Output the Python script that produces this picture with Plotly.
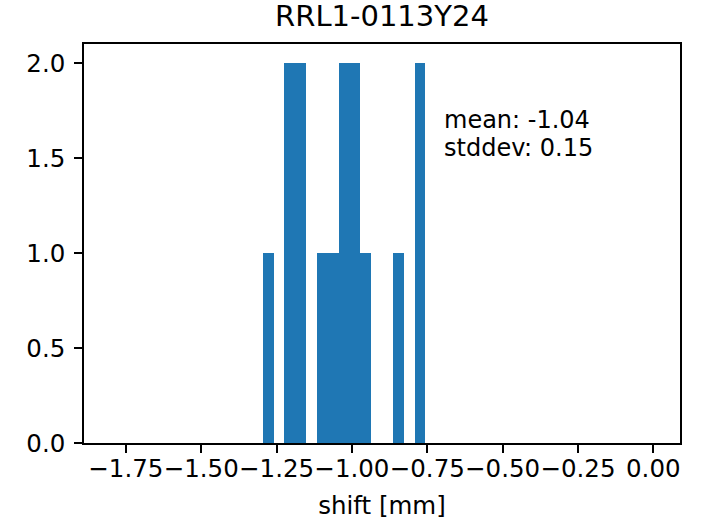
import plotly.graph_objects as go

# Histogram of measured shifts (counts per bin, bins of width 0.036 mm on [-1.8, 0])
bin_left_edges = [-1.296, -1.224, -1.188, -1.116, -1.080, -1.044, -1.008, -0.972, -0.864, -0.792]
bin_counts = [1, 2, 2, 1, 1, 2, 2, 1, 1, 2]
bin_width = 0.036

x_tick_vals = [-1.75, -1.50, -1.25, -1.00, -0.75, -0.50, -0.25, 0.00]
x_tick_text = ["\u22121.75", "\u22121.50", "\u22121.25", "\u22121.00", "\u22120.75", "\u22120.50", "\u22120.25", "0.00"]
y_tick_vals = [0.0, 0.5, 1.0, 1.5, 2.0]
y_tick_text = ["0.0", "0.5", "1.0", "1.5", "2.0"]

title_text = "RRL1-0113Y24"
stats_lines = ["mean: -1.04", "stddev: 0.15"]
x_label = "shift [mm]"

FONT = "DejaVu Sans"
BLUE = "#1f77b4"
TICK_SIZE = 24.5
TEXT_SIZE = 24

centers = [e + bin_width / 2 for e in bin_left_edges]

fig = go.Figure(
    go.Bar(
        x=centers,
        y=bin_counts,
        width=bin_width,
        marker=dict(color=BLUE, line=dict(width=0)),
        hoverinfo="x+y",
    )
)

axis_common = dict(
    showline=True,
    linecolor="black",
    linewidth=1.6,
    mirror=True,
    showgrid=False,
    zeroline=False,
    ticks="outside",
    ticklen=8,
    tickwidth=1.6,
    tickcolor="black",
    tickangle=0,
    automargin=False,
    tickfont=dict(family=FONT, size=TICK_SIZE, color="black"),
)

# stats box: one annotation per line, baselines ~28 px apart
stats_annotations = [
    dict(
        text=line,
        xref="paper",
        yref="paper",
        x=0.6,
        y=0.85 - i * 28.5 / 399.3,
        xanchor="left",
        yanchor="top",
        align="left",
        showarrow=False,
        font=dict(family=FONT, size=TEXT_SIZE, color="black"),
    )
    for i, line in enumerate(stats_lines)
]

fig.update_layout(
    width=708,
    height=520,
    margin=dict(l=84, r=28, t=44, b=77),
    paper_bgcolor="white",
    plot_bgcolor="white",
    bargap=0,
    showlegend=False,
    font=dict(family=FONT, size=TICK_SIZE, color="black"),
    title=dict(
        text=title_text,
        x=0.5,
        xref="paper",
        y=1 - 16 / 520,
        yref="container",
        yanchor="middle",
        font=dict(family=FONT, size=29, color="black"),
    ),
    xaxis=dict(
        range=[-1.889, 0.0886],
        tickvals=x_tick_vals,
        ticktext=x_tick_text,
        ticklabelstandoff=-5,
        title=dict(text=x_label, font=dict(family=FONT, size=TICK_SIZE, color="black"), standoff=16),
        **axis_common,
    ),
    yaxis=dict(
        range=[0, 2.1],
        tickvals=y_tick_vals,
        ticktext=y_tick_text,
        ticklabelstandoff=4,
        **axis_common,
    ),
    annotations=stats_annotations,
)

fig.write_html("out.html")
